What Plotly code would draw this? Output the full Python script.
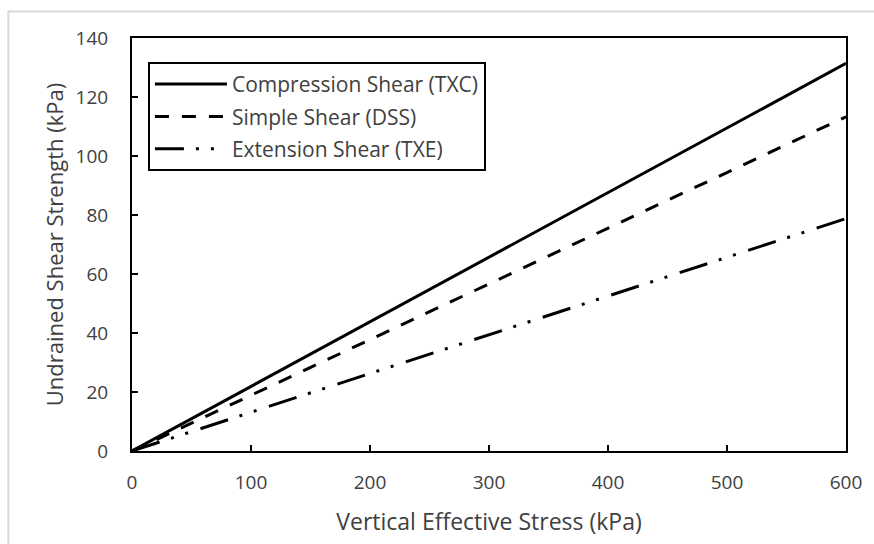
import plotly.graph_objects as go

stress = [0, 100, 200, 300, 400, 500, 600]
txc = [0, 21.9, 43.8, 65.7, 87.6, 109.5, 131.4]
dss = [0, 18.9, 37.8, 56.7, 75.6, 94.5, 113.3]
txe = [0, 13.1, 26.3, 39.4, 52.5, 65.7, 78.8]
names = ["Compression Shear (TXC)", "Simple Shear (DSS)", "Extension Shear (TXE)"]
x_ticks = [0, 100, 200, 300, 400, 500, 600]
y_ticks = [0, 20, 40, 60, 80, 100, 120, 140]

FONT = "Open Sans"
TXT = "#404040"

fig = go.Figure()
dashes = ["solid", "14px,13px", "29px,12px,3px,12px,3px,13px"]
for i, (nm, ys) in enumerate(zip(names, [txc, dss, txe])):
    fig.add_trace(go.Scatter(
        x=stress, y=ys, mode="lines", name=nm, legendgroup=f"g{i}",
        line=dict(color="black", width=3, dash=dashes[i]),
    ))

fig.update_layout(
    width=874, height=544,
    margin=dict(l=132, r=26, t=38, b=93),
    paper_bgcolor="white", plot_bgcolor="white",
    font=dict(family=FONT, size=19, color=TXT),
    showlegend=True,
    legend=dict(
        x=0.0223, y=0.942, xanchor="left", yanchor="top",
        bordercolor="black", borderwidth=2, bgcolor="white",
        font=dict(family=FONT, size=21, color=TXT),
        itemwidth=72, tracegroupgap=2,
    ),
    shapes=[dict(
        type="rect", xref="paper", yref="paper",
        x0=-0.1732, x1=1.06, y0=-0.26, y1=1.064,
        line=dict(color="#d9d9d9", width=2), layer="below",
    )],
)
fig.update_xaxes(
    range=[0, 600], tickvals=x_ticks, ticks="inside", ticklen=6, tickwidth=2,
    tickcolor="black", showline=True, linecolor="black", linewidth=2, mirror=True,
    showgrid=False, zeroline=False, ticklabelstandoff=13,
    tickfont=dict(family=FONT, size=19, color=TXT),
    title=dict(text="Vertical Effective Stress (kPa)", font=dict(family=FONT, size=23, color=TXT), standoff=20),
)
fig.update_yaxes(
    range=[0, 140], tickvals=y_ticks, ticks="inside", ticklen=6, tickwidth=2,
    tickcolor="black", showline=True, linecolor="black", linewidth=2, mirror=True,
    showgrid=False, zeroline=False, ticklabelstandoff=18,
    tickfont=dict(family=FONT, size=19, color=TXT),
    title=dict(text="Undrained Shear Strength (kPa)", font=dict(family=FONT, size=22, color=TXT), standoff=6),
)
fig.write_html("out.html")
